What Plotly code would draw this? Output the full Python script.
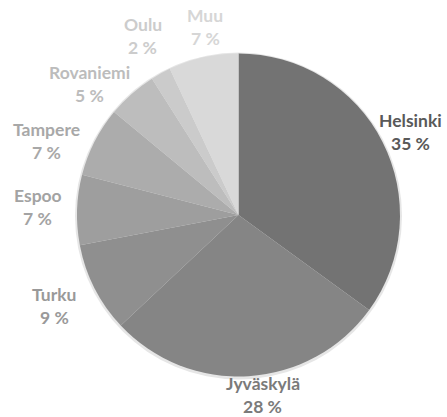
import math
import plotly.graph_objects as go

cities = ["Helsinki", "Jyväskylä", "Turku", "Espoo", "Tampere", "Rovaniemi", "Oulu", "Muu"]
shares = [35, 28, 9, 7, 7, 5, 2, 7]
slice_colors = ["#737373", "#858585", "#8f8f8f", "#9e9e9e", "#acacac", "#bdbdbd", "#cbcbcb", "#d9d9d9"]
label_colors = ["#595959", "#7a7a7a", "#999999", "#a3a3a3", "#a8a8a8", "#bcbcbc", "#cccccc", "#d6d6d6"]

# label placement style (distance from pie centre in px, angular nudge in degrees)
label_dist = [191, 182, 205, 201, 206, 198, 203, 191]
label_turn = [1.3, -4.1, 0.6, 0.5, -6.0, -7.2, 0.7, 2.5]

W, H = 447, 417
PAD = 3  # extra room round the pie for its soft shadow
ml, mr, mt, mb = 77 - PAD, 47 - PAD, 53 - PAD, 40 - PAD
pw, ph = W - ml - mr, H - mt - mb

fig = go.Figure()

# soft shadow disc behind the pie (2px larger, 1px lower)
fig.add_trace(go.Pie(
    values=[1], labels=["shadow"], sort=False,
    marker=dict(colors=["#e6e6e6"], line=dict(width=0)),
    textinfo="none", hoverinfo="skip", showlegend=False,
    domain=dict(x=[1 / pw, 1 - 1 / pw], y=[0, 1 - 2 / ph]),
))

fig.add_trace(go.Pie(
    labels=cities, values=shares, sort=False, direction="clockwise", rotation=0,
    marker=dict(colors=slice_colors, line=dict(width=0)),
    textinfo="none", hoverinfo="label+percent", showlegend=False,
    domain=dict(x=[PAD / pw, 1 - PAD / pw], y=[PAD / ph, 1 - PAD / ph]),
))

font_family = "Lato"
fsize = 17.5
line_gap = 11.5
total = sum(shares)
cum = 0
annotations = []
for name, v, col, dist, turn in zip(cities, shares, label_colors, label_dist, label_turn):
    mid = (cum + v / 2) / total * 2 * math.pi
    cum += v
    ang = mid + math.radians(turn)
    s, c = math.sin(ang), math.cos(ang)
    pct = f"{round(v / total * 100)} %"
    for txt, off in ((name, line_gap), (pct, -line_gap)):
        annotations.append(dict(
            x=0.5, y=0.5, xref="paper", yref="paper", text=f"<b>{txt}</b>",
            showarrow=False, xanchor="center", yanchor="middle",
            xshift=dist * s, yshift=dist * c + off,
            font=dict(family=font_family, size=fsize, color=col),
        ))

fig.update_layout(
    width=W, height=H, margin=dict(l=ml, r=mr, t=mt, b=mb),
    paper_bgcolor="white", plot_bgcolor="white",
    annotations=annotations,
)
fig.write_html(
    "out.html",
    config={"displayModeBar": False},
    post_script="document.body.style.margin='0px';document.body.style.padding='0px';",
)
